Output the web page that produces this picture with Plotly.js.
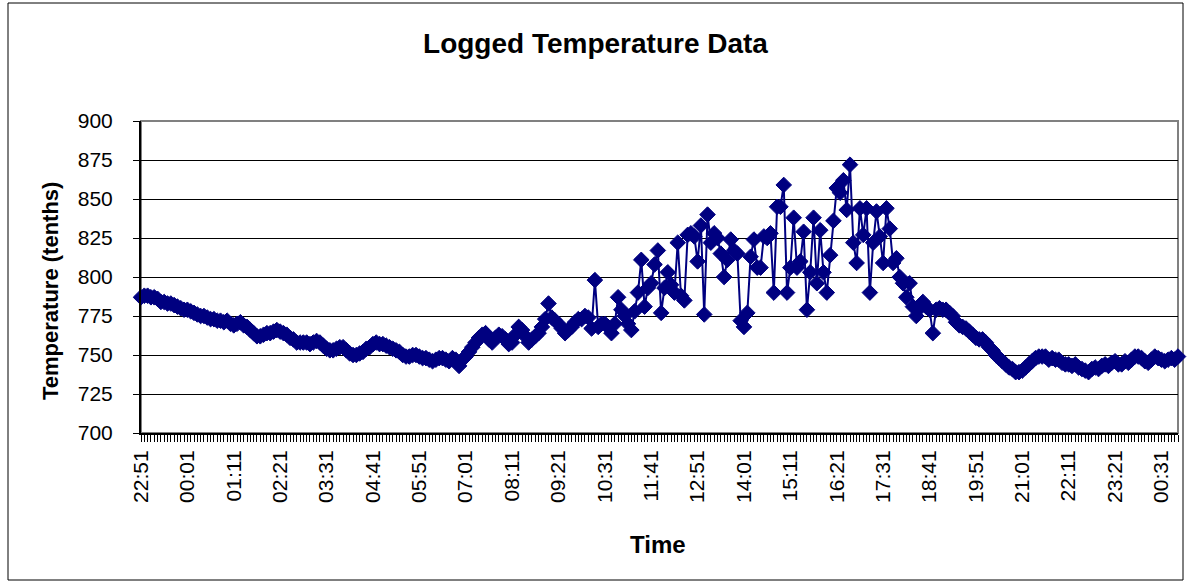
<!DOCTYPE html>
<html>
<head>
<meta charset="utf-8">
<script src="https://cdn.plot.ly/plotly-3.0.1.min.js"></script>
<style>
  html, body { margin: 0; padding: 0; background: #fff; }
  #chart { width: 1191px; height: 584px; }
</style>
</head>
<body>
<div id="chart"></div>
<script>
// ---- data (temperature in tenths of a degree, one reading every 5 minutes) ----
const startLabel = "22:51";
const minutesPerReading = 5;
const readingsPerLabel = 14;

const timeLabels = ["22:51","00:01","01:11","02:21","03:31","04:41","05:51","07:01","08:11",
  "09:21","10:31","11:41","12:51","14:01","15:11","16:21","17:31","18:41","19:51","21:01",
  "22:11","23:21","00:31"];

const tempsNight = [
  787,788,788,787,787,786,784,784,783,783,782,781,780,779,779,
  778,777,776,775,775,774,773,773,772,772,771,772,770,769,
  770,771,769,768,766,764,762,762,763,764,764,765,766,765,
  764,763,761,760,758,758,758,758,757,758,759,758,756,754,
  753,753,754,755,755,753,751,750,750,751,752,754,755,757,
  758,757,757,756,755,754,753,752,750,749,749,750,750,749,
  748,748,747,746,747,748,748,747,746,748,747,743,747,749
];
const tempsMorning = [
  752,755,758,761,763,764,760,758,761,763,762,760,757,758,
  763,768,766,762,758,760,762,764,768,773,783,774,772,770,
  767,764,766,768,771,773,773,775,774,767,798,768,770,770
];
const tempsMidday = [
  768,764,770,787,779,775,770,766,778,790,811,781,793,796,
  808,817,777,793,803,795,790,822,788,785,827,828,826,810,
  833,776,840,822,828,825,815,800,811,824,817,815,772,768,
  777,813,824,806,806,826,825,828,790,845,845,859,790,806,
  838,806,810,829,779,803,838,796,830,803,790,814,836,857,
  854,862,843,872,822,809,844,827,844,790,822,842,826,809,
  844,831,809,812,800,796,787,796,781,775,780,784,781,779
];
const tempsEvening = [
  764,779,780,779,779,777,775,771,769,768,767,765,763,761,
  760,760,758,755,753,750,748,746,744,742,741,739,739,740,
  742,744,746,748,749,749,749,747,748,747,747,745,744,744,
  743,744,742,741,740,739,741,742,741,743,744,743,745,746,
  744,744,746,745,747,749,749,748,746,745,747,749,748,747,
  746,747,748,747,749
];

const temps = tempsNight.concat(tempsMorning, tempsMidday, tempsEvening);
const idx = temps.map((_, i) => i);

// hover text: clock time of each reading
const [sh, sm] = startLabel.split(":").map(Number);
const clock = idx.map(i => {
  const t = (sh * 60 + sm + i * minutesPerReading) % 1440;
  return String(Math.floor(t / 60)).padStart(2, "0") + ":" + String(t % 60).padStart(2, "0");
});

// ---- layout geometry (pixels) ----
const W = 1191, H = 584;
const L = 141, R = 1178, T = 121, B = 433;
const px2x = p => (p - L) / (R - L);
const py2y = p => (B - p) / (B - T);

const FONT = "Arial, 'Liberation Sans', sans-serif";
const NAVY = "#000080";

const trace = {
  type: "scatter",
  mode: "lines+markers",
  x: idx,
  y: temps,
  text: clock,
  hovertemplate: "%{text}: %{y}<extra></extra>",
  line: { color: NAVY, width: 2 },
  marker: { symbol: "diamond", size: 12, color: NAVY, line: { color: NAVY, width: 1 } },
  cliponaxis: false,
  showlegend: false
};

const layout = {
  width: W, height: H,
  margin: { l: L, r: W - R, t: T, b: H - B, pad: 0 },
  paper_bgcolor: "#fff",
  plot_bgcolor: "#fff",
  font: { family: FONT, color: "#000" },
  title: {
    text: "<b>Logged Temperature Data</b>",
    font: { family: FONT, size: 28, color: "#000" },
    xref: "container", x: 0.5, xanchor: "center",
    yref: "container", y: 1 - 43 / H, yanchor: "middle"
  },
  xaxis: {
    range: [0, temps.length - 1],
    tickmode: "array",
    tickvals: timeLabels.map((_, k) => k * readingsPerLabel),
    ticktext: timeLabels,
    tickangle: -90,
    ticks: "outside", ticklen: 7, tickwidth: 1, tickcolor: "#000",
    tickfont: { family: FONT, size: 21, color: "#000" },
    minor: { tickmode: "linear", tick0: 0, dtick: 1, ticks: "outside", ticklen: 7, tickwidth: 1, tickcolor: "#000", showgrid: false },
    showgrid: false, zeroline: false,
    showline: true, linecolor: "#000", linewidth: 2,
    fixedrange: true
  },
  yaxis: {
    range: [700, 900],
    tickmode: "linear", tick0: 700, dtick: 25,
    ticks: "outside", ticklen: 6, tickwidth: 1, tickcolor: "#000",
    ticklabelstandoff: 16,
    tickfont: { family: FONT, size: 21, color: "#000" },
    showgrid: true, gridcolor: "#000", gridwidth: 1,
    zeroline: false,
    showline: true, linecolor: "#000", linewidth: 2,
    fixedrange: true
  },
  shapes: [
    // plot area border (grey, Excel style)
    { type: "rect", xref: "paper", yref: "paper", x0: 0, x1: 1, y0: 0, y1: 1,
      line: { color: "#808080", width: 2 }, layer: "below" },
    // chart area border
    { type: "rect", xref: "paper", yref: "paper",
      x0: px2x(8), x1: px2x(1183), y0: py2y(580), y1: py2y(3),
      line: { color: "#000", width: 1 }, layer: "below" }
  ],
  annotations: [
    { text: "<b>Temperature (tenths)</b>", xref: "paper", yref: "paper",
      x: px2x(50), y: py2y(291), xanchor: "center", yanchor: "middle",
      textangle: -90, showarrow: false, font: { family: FONT, size: 22, color: "#000" } },
    { text: "<b>Time</b>", xref: "paper", yref: "paper",
      x: px2x(658), y: py2y(544), xanchor: "center", yanchor: "middle",
      showarrow: false, font: { family: FONT, size: 24, color: "#000" } }
  ]
};

Plotly.newPlot("chart", [trace], layout, { displayModeBar: false, staticPlot: true });
</script>
</body>
</html>
